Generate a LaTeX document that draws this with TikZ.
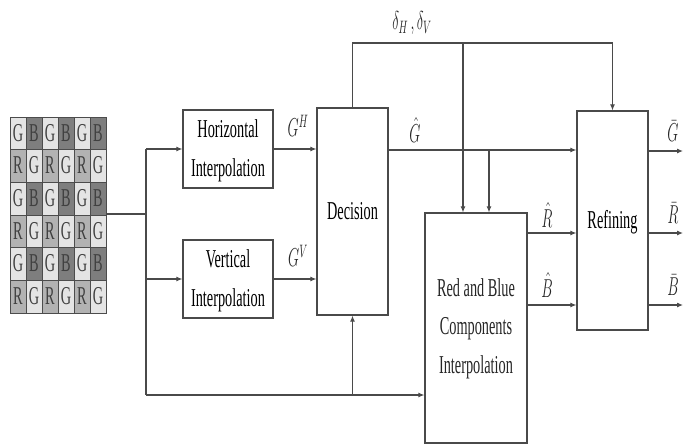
\documentclass[tikz,border=0pt]{standalone}
\usepackage{fontspec}
\setmainfont{Liberation Serif}
\usetikzlibrary{arrows.meta}
\newcommand\vtext[1]{\scalebox{1}[1.8]{\fontsize{14.3}{21.5}\selectfont\begin{tabular}{@{}c@{}}#1\end{tabular}}}
\newcommand\vmath[1]{\scalebox{1}[1.8]{\fontsize{14.3}{17}\selectfont$#1$}}
\definecolor{ln}{HTML}{4A4A4A}
\definecolor{cG}{HTML}{E4E4E4}
\definecolor{cR}{HTML}{B2B2B2}
\definecolor{cB}{HTML}{7E7E7E}
\tikzset{
  blk/.style={draw=ln, line width=1.2pt, fill=white, inner sep=0pt},
  conn/.style={draw=ln, line width=1.1pt},
  arr/.style={conn, -{Latex[length=6pt,width=5pt]}},
  lbl/.style={inner sep=0pt, text=black!85},
}
\begin{document}
\begin{tikzpicture}[x=1pt,y=-1pt]
\useasboundingbox (0,0) rectangle (683,445);
% Bayer grid
\node[inner sep=0pt, minimum width=96pt, minimum height=196pt] (grid) at (58,215) {};
\foreach \r in {0,...,5}{
  \foreach \c in {0,...,5}{
    \pgfmathtruncatemacro\rm{mod(\r,2)}
    \pgfmathtruncatemacro\cm{mod(\c,2)}
    \ifnum\rm=0
      \ifnum\cm=0 \def\cc{cG}\def\ll{G}\else \def\cc{cB}\def\ll{B}\fi
    \else
      \ifnum\cm=0 \def\cc{cR}\def\ll{R}\else \def\cc{cG}\def\ll{G}\fi
    \fi
    \filldraw[fill=\cc, draw=black!70, line width=0.6pt] (10+16*\c,117+32.67*\r) rectangle ++(16,32.67);
    \node[lbl, text=black!75] (cell\r\c) at (18+16*\c,117+32.67*\r+16.3) {\vtext{\ll}};
  }
}
% blocks
\node[blk, minimum width=90pt, minimum height=78pt] (hbox) at (228,149) {\vtext{Horizontal\\Interpolation}};
\node[blk, minimum width=90pt, minimum height=78pt] (vbox) at (228,279) {\vtext{Vertical\\Interpolation}};
\node[blk, minimum width=71pt, minimum height=207pt] (dec) at (352.5,211.5) {\vtext{Decision}};
\node[blk, minimum width=102pt, minimum height=230pt] (rb) at (476,328) {};
\node[lbl] (rbtext) at (476,327) {\vtext{Red and Blue\\Components\\Interpolation}};
\node[blk, minimum width=71pt, minimum height=219pt] (ref) at (612.5,220.5) {\vtext{Refining}};
% coordinates
\coordinate (s1) at (146,214);
\coordinate (st) at (146,149);
\coordinate (sv) at (146,279);
\coordinate (sb) at (146,395);
\coordinate (sd) at (352.5,395);
\coordinate (t1) at (352.5,43);
\coordinate (t2) at (463,43);
\coordinate (t3) at (612.5,43);
\coordinate (g1) at (388,150);
\coordinate (g2) at (489,150);
\coordinate (o1) at (683,151);
\coordinate (o2) at (683,233);
\coordinate (o3) at (683,305);
% connectors
\draw[conn] (grid.east |- s1) -- (s1);
\draw[conn] (st) -- (sb);
\draw[arr] (st) -- (hbox.west);
\draw[arr] (sv) -- (vbox.west);
\draw[arr] (sb) -- (rb.west |- sb);
\draw[arr] (sd) -- (dec.south);
\draw[arr] (hbox.east) -- (dec.west |- hbox.east);
\draw[arr] (vbox.east) -- (dec.west |- vbox.east);
\draw[conn] (dec.north) -- (t1) -- (t3);
\draw[arr] (t3) -- (ref.north);
\draw[arr] (t2) -- (t2 |- rb.north);
\draw[arr] (g1) -- (ref.west |- g1);
\draw[arr] (g2) -- (g2 |- rb.north);
\draw[arr] (rb.east |- 0,233) -- (ref.west |- 0,233);
\draw[arr] (rb.east |- 0,305) -- (ref.west |- 0,305);
\draw[arr] (ref.east |- o1) -- (o1);
\draw[arr] (ref.east |- o2) -- (o2);
\draw[arr] (ref.east |- o3) -- (o3);
% labels
\node[lbl] (lGH) at (298,126) {\vmath{G^H}};
\node[lbl] (lGV) at (298,256) {\vmath{G^V}};
\node[lbl] (lGhat) at (415,130) {\vmath{\hat G}};
\node[lbl] (lRhat) at (547,215) {\vmath{\hat R}};
\node[lbl] (lBhat) at (547,285) {\vmath{\hat B}};
\node[lbl] (lGbar) at (673,131) {\vmath{\bar G}};
\node[lbl] (lRbar) at (673,213) {\vmath{\bar R}};
\node[lbl] (lBbar) at (673,285) {\vmath{\bar B}};
\node[lbl] (ldelta) at (412,23) {\vmath{\delta_H\,,\delta_V}};
\end{tikzpicture}
\end{document}
